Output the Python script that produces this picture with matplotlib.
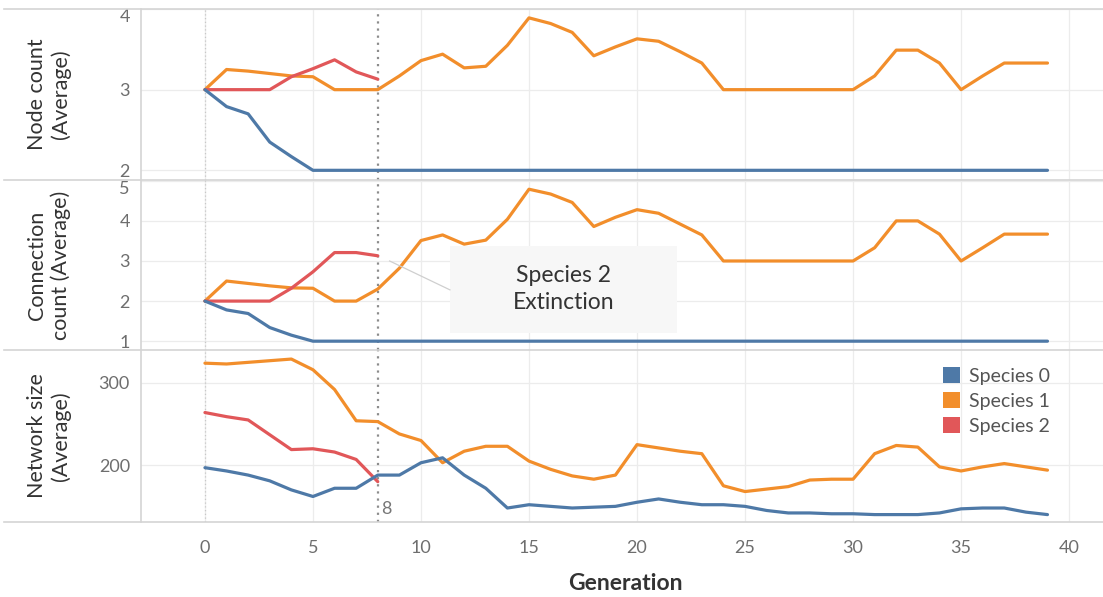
import numpy as np
import matplotlib.pyplot as plt
from matplotlib.patches import Patch, Rectangle
from matplotlib.lines import Line2D

plt.rcParams['font.family'] = ['Lato', 'DejaVu Sans']

# --- DATA ---
generations = list(range(40))
gen_species2 = list(range(9))

node_s0 = [3.0, 2.79, 2.70, 2.35, 2.17, 2.0] + [2.0] * 34
node_s1 = [3.0, 3.25, 3.23, 3.20, 3.17, 3.16, 3.0, 3.0, 3.0, 3.17,
           3.36, 3.44, 3.27, 3.29, 3.55, 3.89, 3.82, 3.71, 3.42, 3.53,
           3.63, 3.60, 3.47, 3.33, 3.0, 3.0, 3.0, 3.0, 3.0, 3.0,
           3.0, 3.17, 3.49, 3.49, 3.33, 3.0, 3.17, 3.33, 3.33, 3.33]
node_s2 = [3.0, 3.0, 3.0, 3.0, 3.16, 3.26, 3.37, 3.22, 3.13]

conn_s0 = [2.0, 1.78, 1.69, 1.34, 1.15, 1.0] + [1.0] * 34
conn_s1 = [2.0, 2.5, 2.44, 2.38, 2.33, 2.32, 2.0, 2.0, 2.3, 2.82,
           3.51, 3.65, 3.42, 3.52, 4.04, 4.79, 4.67, 4.46, 3.86, 4.09,
           4.28, 4.19, 3.92, 3.65, 3.0, 3.0, 3.0, 3.0, 3.0, 3.0,
           3.0, 3.33, 4.0, 4.0, 3.67, 3.0, 3.33, 3.67, 3.67, 3.67]
conn_s2 = [2.0, 2.0, 2.0, 2.0, 2.32, 2.73, 3.21, 3.21, 3.13]

size_s0 = [197, 193, 188, 181, 170, 162, 172, 172, 188, 188,
           203, 209, 188, 172, 148, 152, 150, 148, 149, 150,
           155, 159, 155, 152, 152, 150, 145, 142, 142, 141,
           141, 140, 140, 140, 142, 147, 148, 148, 143, 140]
size_s1 = [324, 323, 325, 327, 329, 316, 292, 254, 253, 238,
           230, 203, 217, 223, 223, 205, 195, 187, 183, 188,
           225, 221, 217, 214, 175, 168, 171, 174, 182, 183,
           183, 214, 224, 222, 198, 193, 198, 202, 198, 194]
size_s2 = [264, 259, 255, 237, 219, 220, 216, 207, 180]

species_labels = ['Species 0', 'Species 1', 'Species 2']
colors = ['#4E79A7', '#F28E2B', '#E15759']

panel_titles = ['Node count\n(Average)', 'Connection\ncount (Average)', 'Network size\n(Average)']
panel_series = [(node_s0, node_s1, node_s2), (conn_s0, conn_s1, conn_s2), (size_s0, size_s1, size_s2)]
panel_yticks = [[2, 3, 4], [1, 2, 3, 4, 5], [200, 300]]
panel_ylims = [(1.88, 4.0), (0.78, 5.02), (131, 340)]
xticks = [0, 5, 10, 15, 20, 25, 30, 35, 40]
extinction_gen = 8

# --- LAYOUT ---
W, H = 1103, 597
fig = plt.figure(figsize=(W / 100, H / 100), dpi=100)
fig.patch.set_facecolor('white')

left = 141 / W
panel_px = [(9, 180), (180, 350), (350, 522)]
axes = []
for (top_px, bot_px) in panel_px:
    ax = fig.add_axes([left, 1 - bot_px / H, 1 - left, (bot_px - top_px) / H])
    axes.append(ax)

grid_col = '#ececec'
tick_col = '#6e6e6e'
label_col = '#333333'

for i, ax in enumerate(axes):
    s0, s1, s2 = panel_series[i]
    ax.plot(generations, s1, color=colors[1], lw=2.3, zorder=3, solid_capstyle='round')
    ax.plot(gen_species2, s2, color=colors[2], lw=2.3, zorder=4, solid_capstyle='round')
    ax.plot(generations, s0, color=colors[0], lw=2.3, zorder=5, solid_capstyle='round')

    ax.set_xlim(-2.96, 41.57)
    ax.set_ylim(*panel_ylims[i])
    ax.set_yticks(panel_yticks[i])
    ax.set_xticks(xticks)
    ax.grid(True, color=grid_col, lw=0.9, zorder=0)
    ax.set_axisbelow(True)
    for sp in ax.spines.values():
        sp.set_visible(False)
    ax.tick_params(length=0, labelsize=13, colors=tick_col, pad=8)
    if i < 2:
        ax.tick_params(labelbottom=False)

    # reference lines at generation 0 and at the extinction
    ax.axvline(0, color='#c8c8c8', lw=0.9, ls=(0, (1, 2)), zorder=1)
    ax.axvline(extinction_gen, color='#8c8c8c', lw=1.6, ls=(0, (1, 2.2)), zorder=2)

    fig.text(49 / W, 1 - (sum(panel_px[i]) / 2) / H, panel_titles[i], rotation=90,
             ha='center', va='center', fontsize=15.5, color=label_col, linespacing=1.2)

# nudge edge tick labels inside the panels like the original
axes[0].get_yticklabels()[-1].set_va('top')
axes[1].get_yticklabels()[-1].set_va('top')

# x axis
axes[2].tick_params(axis='x', pad=13)
fig.text(625 / W, 1 - 583 / H, 'Generation', ha='center', va='center',
         fontsize=16.5, color=label_col, fontweight='bold')

# "8" label on the extinction line
axes[2].text(extinction_gen + 0.15, 0.075, str(extinction_gen), transform=axes[2].get_xaxis_transform(),
             ha='left', va='center', fontsize=13, color='#777777')

# annotation box in the middle panel
ax = axes[1]
ax.add_patch(Rectangle((11.34, 1.2), 10.5, 2.175, facecolor='#f7f7f7', edgecolor='none', zorder=6))
ax.text(16.6, 2.3, 'Species 2\nExtinction', ha='center', va='center', fontsize=16.5,
        color='#333333', linespacing=1.35, zorder=7)
ax.plot([8.55, 11.34], [3.0, 2.28], color='#cfcfcf', lw=0.9, zorder=6)

# legend
handles = [Patch(facecolor=c, edgecolor='none') for c in colors]
axes[2].legend(handles, species_labels, loc='upper left', bbox_to_anchor=(0.824, 0.955),
               frameon=False, fontsize=14, handlelength=0.85, handleheight=0.85,
               handletextpad=0.45, labelspacing=0.38, labelcolor='#555555', borderpad=0)

# panel divider lines and frame
line_col = '#d4d4d4'
for y_px in [9, 180, 350, 522]:
    fig.add_artist(Line2D([4 / W, 1], [1 - y_px / H] * 2, color=line_col, lw=1.2))
fig.add_artist(Line2D([left, left], [1 - 9 / H, 1 - 522 / H], color=line_col, lw=1.2))

fig.savefig('out.png', dpi=100, facecolor='white')
